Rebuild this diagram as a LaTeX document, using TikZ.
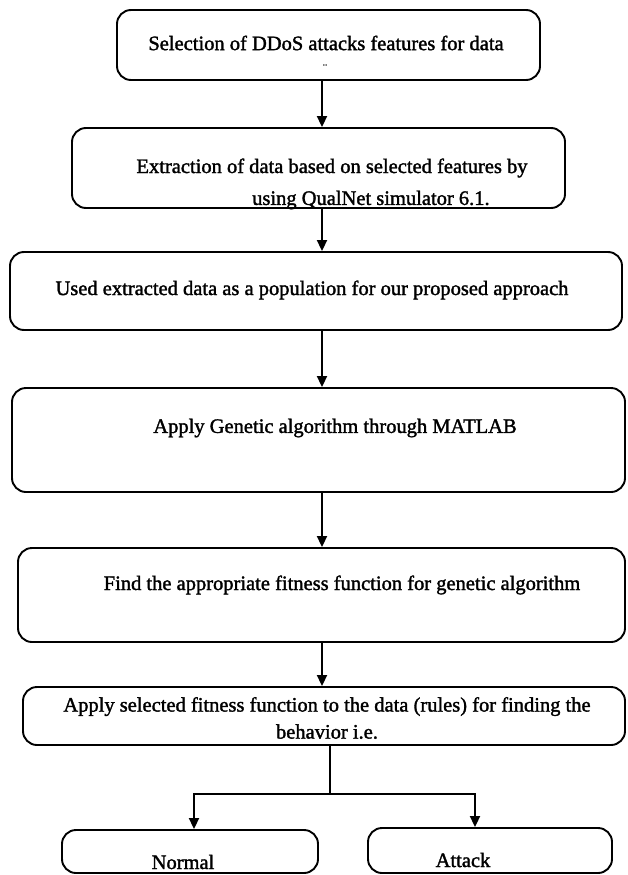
\documentclass[tikz,border=0pt]{standalone}
\usepackage{fontspec}
\setmainfont{Liberation Serif}[UprightFeatures={FakeBold=1.6}]
\usetikzlibrary{arrows.meta}
\tikzset{
  boxstyle/.style={draw, line width=1.9pt, rounded corners=14pt, inner sep=0pt},
  txt/.style={inner sep=0pt, font=\fontsize{20.5}{27}\selectfont, align=center},
  arr/.style={line width=1.9pt, -{Triangle[length=11pt,width=10pt]}},
  ln/.style={line width=1.9pt}
}
\begin{document}
\begin{tikzpicture}[x=1pt,y=-1pt]
\useasboundingbox (0,0) rectangle (628,875);
% boxes
\node[boxstyle, minimum width=423pt, minimum height=70pt] (b1) at (328.5,45) {};
\node[boxstyle, minimum width=493pt, minimum height=80pt] (b2) at (318.5,168) {};
\node[boxstyle, minimum width=612pt, minimum height=78pt] (b3) at (316,291) {};
\node[boxstyle, minimum width=613pt, minimum height=104pt] (b4) at (318.5,440) {};
\node[boxstyle, minimum width=607pt, minimum height=94pt] (b5) at (321.5,595) {};
\node[boxstyle, minimum width=602pt, minimum height=58pt] (b6) at (324,716) {};
\node[boxstyle, minimum width=256pt, minimum height=43pt] (bn) at (190,851.5) {};
\node[boxstyle, minimum width=244pt, minimum height=45pt] (ba) at (490,850.5) {};
% texts
\node[txt] (t1) at (326,43) {Selection of DDoS attacks features for data};
\node[inner sep=0pt, font=\fontsize{9}{10}\selectfont] (t1b) at (325,65) {..};
\node[txt] (t2a) at (332,168) {Extraction of data based on selected features by};
\node[txt, anchor=west] (t2b) at (252,200) {using QualNet simulator 6.1.};
\node[txt] (t3) at (312,290) {Used extracted data as a population for our proposed approach};
\node[txt] (t4) at (335,428) {Apply Genetic algorithm through MATLAB};
\node[txt] (t5) at (342,585) {Find the appropriate fitness function for genetic algorithm};
\node[txt] (t6) at (327,718) {Apply selected fitness function to the data (rules) for finding the\\behavior i.e.};
\node[txt] (tn) at (183,862) {Normal};
\node[txt] (ta) at (463,860) {Attack};
% connectors
\coordinate (ax) at (322,0);
\coordinate (j) at (330,794);
\coordinate (lx) at (194,0);
\coordinate (rx) at (475,0);
\draw[arr] (b1.south -| ax) -- (b2.north -| ax);
\draw[arr] (b2.south -| ax) -- (b3.north -| ax);
\draw[arr] (b3.south -| ax) -- (b4.north -| ax);
\draw[arr] (b4.south -| ax) -- (b5.north -| ax);
\draw[arr] (b5.south -| ax) -- (b6.north -| ax);
\draw[ln] (b6.south -| j) -- (j);
\draw[arr] (j) -| (bn.north -| lx);
\draw[arr] (j) -| (ba.north -| rx);
\end{tikzpicture}
\end{document}
